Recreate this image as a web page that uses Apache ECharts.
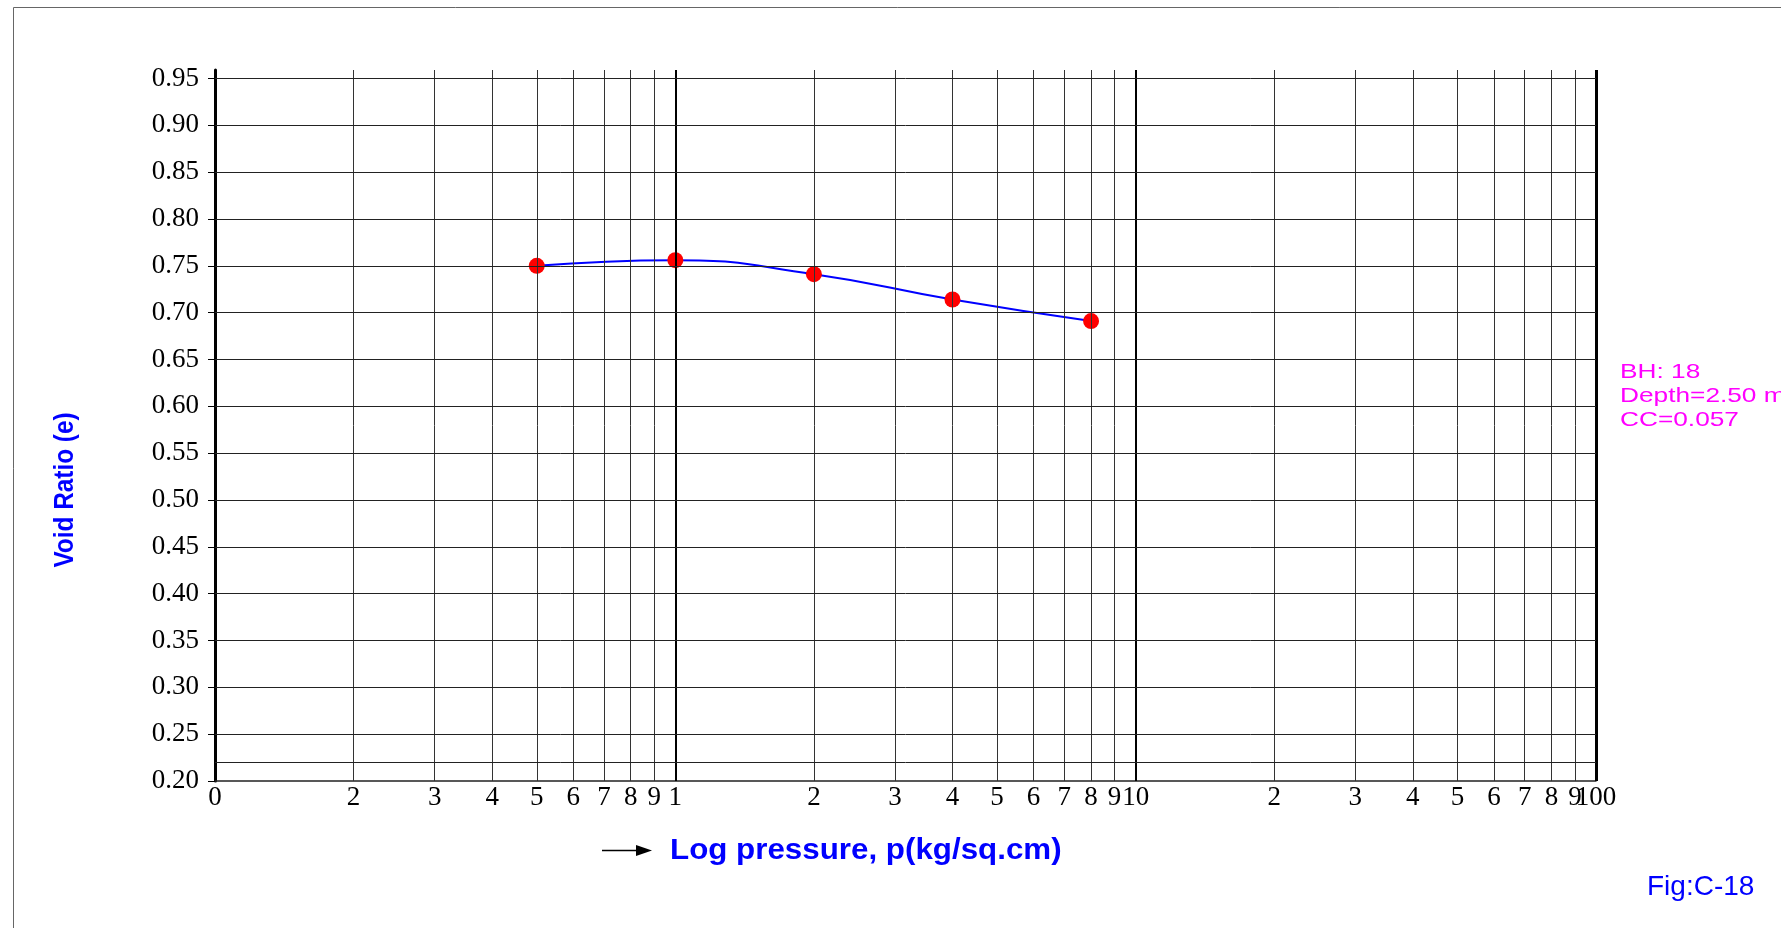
<!DOCTYPE html>
<html>
<head>
<meta charset="utf-8">
<title>Void Ratio vs Log Pressure</title>
<script src="https://cdn.jsdelivr.net/npm/echarts@6/dist/echarts.min.js"></script>
<style>
  html, body { margin: 0; padding: 0; background: #ffffff; }
  #chart { width: 1781px; height: 928px; }
</style>
</head>
<body>
<div id="chart"></div>
<script>
// Consolidation test results (e - log p)
const pressure = [0.5, 1, 2, 4, 8];
const voidRatio = [0.750, 0.756, 0.741, 0.714, 0.691];

// Log-cycle tick positions and their printed labels
const xTickValues = [0.1, 0.2, 0.3, 0.4, 0.5, 0.6, 0.7, 0.8, 0.9,
                     1, 2, 3, 4, 5, 6, 7, 8, 9,
                     10, 20, 30, 40, 50, 60, 70, 80, 90, 100];
const xTickLabels = ['0', '2', '3', '4', '5', '6', '7', '8', '9',
                     '1', '2', '3', '4', '5', '6', '7', '8', '9',
                     '10', '2', '3', '4', '5', '6', '7', '8', '9', '100'];
const xMajorValues = [1, 10];

const yTickValues = [0.20, 0.25, 0.30, 0.35, 0.40, 0.45, 0.50, 0.55,
                     0.60, 0.65, 0.70, 0.75, 0.80, 0.85, 0.90, 0.95];
const yExtraLines = [0.221];

const noteLines = ['BH: 18', 'Depth=2.50 m', 'CC=0.057'];
const xTitle = 'Log pressure, p(kg/sq.cm)';
const yTitle = 'Void Ratio (e)';
const figLabel = 'Fig:C-18';

const chart = echarts.init(document.getElementById('chart'), null, { renderer: 'canvas' });

// Grid lines of the semi-log sheet, placed through the axes
const verticalLines = xTickValues.filter(v => v > 0.1).map(v => {
  let width = 1, color = '#333333';
  if (xMajorValues.indexOf(v) >= 0) { width = 2; color = '#000000'; }
  if (v === 100) { width = 3; color = '#000000'; }
  return { xAxis: v, lineStyle: { width: width, color: color, type: 'solid' } };
});
const horizontalLines = yTickValues.filter(v => v > 0.2).concat(yExtraLines).map(v => ({
  yAxis: v, lineStyle: { width: 1, color: '#222222', type: 'solid' }
}));

function xLabelFor(v) {
  const i = xTickValues.findIndex(t => Math.abs(t - v) < t * 1e-6);
  return i >= 0 ? xTickLabels[i] : '';
}

// The last label sits on its own axis so the crowded "9" and "100" both print
const lastX = xTickValues[xTickValues.length - 1];
const serifFont = '"Liberation Serif", "Times New Roman", serif';

function logAxis(values, showLine) {
  return {
    type: 'log',
    logBase: 10,
    min: 0.1,
    max: 100,
    position: 'bottom',
    axisLine: { show: showLine, onZero: false, lineStyle: { color: '#222222', width: 1.5 } },
    axisTick: { show: false },
    splitLine: { show: false },
    minorTick: { show: false },
    minorSplitLine: { show: false },
    axisLabel: {
      customValues: values,
      formatter: xLabelFor,
      showMinLabel: true,
      showMaxLabel: true,
      hideOverlap: false,
      color: '#000000',
      fontFamily: serifFont,
      fontSize: 27,
      margin: 3
    }
  };
}

const option = {
  animation: false,
  backgroundColor: '#ffffff',
  grid: { left: 215, right: 185, top: 70, bottom: 147, containLabel: false },
  xAxis: [
    logAxis(xTickValues.slice(0, -1), true),
    logAxis([lastX], false)
  ],
  yAxis: {
    type: 'value',
    min: 0.2,
    max: 0.959,
    axisLine: { show: true, onZero: false, lineStyle: { color: '#000000', width: 3 } },
    axisTick: { show: true, customValues: yTickValues, length: 7, lineStyle: { color: '#000000', width: 1 } },
    splitLine: { show: false },
    axisLabel: {
      customValues: yTickValues,
      formatter: v => v.toFixed(2),
      showMinLabel: true,
      showMaxLabel: true,
      color: '#000000',
      fontFamily: serifFont,
      fontSize: 27,
      margin: 16
    }
  },
  series: [
    {
      name: 'grid',
      type: 'line',
      data: [],
      z: 1,
      silent: true,
      markLine: {
        silent: true,
        symbol: ['none', 'none'],
        label: { show: false },
        emphasis: { disabled: true },
        animation: false,
        data: verticalLines.concat(horizontalLines)
      }
    },
    {
      name: 'e - log p',
      type: 'line',
      z: 3,
      data: pressure.map((p, i) => [p, voidRatio[i]]),
      smooth: 0.5,
      lineStyle: { color: '#0000ff', width: 2 },
      symbol: 'circle',
      symbolSize: 16,
      itemStyle: { color: '#ff0000', borderWidth: 0 },
      emphasis: { disabled: true }
    }
  ],
  graphic: [
    {
      type: 'rect',
      silent: true,
      shape: { x: 13.5, y: 7.5, width: 2200, height: 2200 },
      style: { fill: 'none', stroke: '#666666', lineWidth: 1 }
    },
    {
      type: 'text',
      silent: true,
      x: 65, y: 490,
      rotation: Math.PI / 2,
      scaleX: 0.87,
      style: {
        text: yTitle,
        fill: '#0000ff',
        font: 'bold 28px "Liberation Sans", Arial, sans-serif',
        align: 'center',
        verticalAlign: 'middle'
      }
    },
    {
      type: 'line',
      silent: true,
      shape: { x1: 602, y1: 850.5, x2: 640, y2: 850.5 },
      style: { stroke: '#000000', lineWidth: 1.5 }
    },
    {
      type: 'polygon',
      silent: true,
      shape: { points: [[636, 845], [652, 850.5], [636, 856]] },
      style: { fill: '#000000' }
    },
    {
      type: 'text',
      silent: true,
      x: 670, y: 851,
      scaleX: 1.08,
      style: {
        text: xTitle,
        fill: '#0000ff',
        font: 'bold 29px "Liberation Sans", Arial, sans-serif',
        align: 'left',
        verticalAlign: 'middle'
      }
    },
    {
      type: 'text',
      silent: true,
      x: 1620, y: 360,
      scaleX: 1.25,
      style: {
        text: noteLines.join('\n'),
        fill: '#ff00ff',
        font: '21px "Liberation Sans", Arial, sans-serif',
        lineHeight: 24,
        align: 'left',
        verticalAlign: 'top'
      }
    },
    {
      type: 'text',
      silent: true,
      x: 1647, y: 887,
      style: {
        text: figLabel,
        fill: '#0000ff',
        font: '28px "Liberation Sans", Arial, sans-serif',
        align: 'left',
        verticalAlign: 'middle'
      }
    }
  ]
};

chart.setOption(option);
</script>
</body>
</html>
